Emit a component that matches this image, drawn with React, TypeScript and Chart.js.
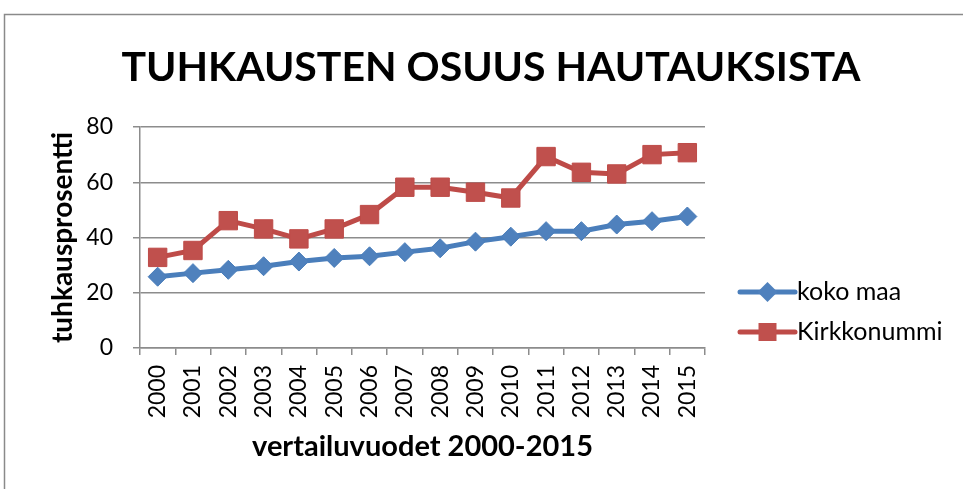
import React, { useEffect, useRef } from "react";
import { Chart, registerables } from "chart.js";

Chart.register(...registerables);

const title = "TUHKAUSTEN OSUUS HAUTAUKSISTA";
const xTitle = "vertailuvuodet 2000-2015";
const yTitle = "tuhkausprosentti";
const years = ["2000", "2001", "2002", "2003", "2004", "2005", "2006", "2007", "2008", "2009", "2010", "2011", "2012", "2013", "2014", "2015"];
const kokoMaa = [25.8, 27.1, 28.3, 29.6, 31.3, 32.6, 33.2, 34.7, 36.1, 38.5, 40.3, 42.3, 42.3, 44.7, 45.9, 47.6];
const kirkkonummi = [32.8, 35.3, 46.1, 43.1, 39.5, 43.1, 48.3, 58.2, 58.2, 56.4, 54.3, 69.3, 63.6, 63.0, 70.0, 70.7];
const yTicks = [0, 20, 40, 60, 80];

const FONT = "Lato, 'Liberation Sans', sans-serif";
const GRID = "#8c8c8c";

const framePlugin = {
  id: "frame",
  beforeDraw(chart: any) {
    const ctx = chart.ctx;
    ctx.save();
    ctx.fillStyle = "#ffffff";
    ctx.fillRect(0, 0, chart.width, chart.height);
    ctx.strokeStyle = "#8a8a8a";
    ctx.lineWidth = 1.5;
    ctx.strokeRect(4.5, 14.5, chart.width + 20, chart.height + 20);
    ctx.restore();
  },
  afterDraw(chart: any) {
    const ctx = chart.ctx;
    ctx.save();
    ctx.fillStyle = "#000";
    ctx.font = `bold 41px ${FONT}`;
    ctx.textAlign = "center";
    ctx.textBaseline = "middle";
    ctx.fillText(title, 491, 68);
    ctx.restore();
  },
};

const legendPlugin = {
  id: "customLegend",
  afterDraw(chart: any) {
    const { ctx, chartArea } = chart;
    ctx.save();
    chart.data.datasets.forEach((ds: any, i: number) => {
      const x0 = chartArea.right + 35;
      const y = chartArea.top + 165 + i * 40;
      ctx.strokeStyle = ds.borderColor;
      ctx.lineWidth = 5;
      ctx.lineCap = "round";
      ctx.beginPath();
      ctx.moveTo(x0, y);
      ctx.lineTo(x0 + 55, y);
      ctx.stroke();
      const cx = x0 + 27.5;
      ctx.fillStyle = ds.pointBackgroundColor;
      ctx.beginPath();
      if (ds.pointStyle === "rectRot") {
        const r = 10;
        ctx.moveTo(cx, y - r);
        ctx.lineTo(cx + r, y);
        ctx.lineTo(cx, y + r);
        ctx.lineTo(cx - r, y);
        ctx.closePath();
      } else {
        const s = 9;
        ctx.rect(cx - s, y - s, 2 * s, 2 * s);
      }
      ctx.fill();
      ctx.fillStyle = "#000";
      ctx.font = `25px ${FONT}`;
      ctx.textAlign = "left";
      ctx.textBaseline = "middle";
      ctx.fillText(ds.label, x0 + 57, y);
    });
    ctx.restore();
  },
};

export default function App() {
  const ref = useRef<HTMLCanvasElement | null>(null);
  useEffect(() => {
    if (!ref.current) return;
    const chart = new Chart(ref.current, {
      type: "line",
      data: {
        labels: years,
        datasets: [
          {
            label: "koko maa",
            data: kokoMaa,
            borderColor: "#4A7EBB",
            backgroundColor: "#4F81BD",
            pointBackgroundColor: "#4F81BD",
            pointBorderColor: "#4A7EBB",
            pointBorderWidth: 1,
            pointStyle: "rectRot",
            pointRadius: 9.5,
            borderWidth: 5,
            tension: 0,
          },
          {
            label: "Kirkkonummi",
            data: kirkkonummi,
            borderColor: "#BE4B48",
            backgroundColor: "#C0504D",
            pointBackgroundColor: "#C0504D",
            pointBorderColor: "#BE4B48",
            pointBorderWidth: 1,
            pointStyle: "rect",
            pointRadius: 13,
            borderWidth: 5,
            tension: 0,
          },
        ],
      },
      options: {
        responsive: false,
        animation: false,
        layout: { padding: { left: 0, right: 258, top: 127, bottom: 0 } },
        plugins: {
          legend: { display: false },
          tooltip: { enabled: false },
          title: { display: false },
        },
        scales: {
          x: {
            type: "category",
            offset: true,
            afterFit: (s: any) => {
              s.height = 141;
            },
            grid: {
              display: true,
              offset: true,
              drawOnChartArea: false,
              drawTicks: true,
              tickLength: 7,
              color: GRID,
              lineWidth: 1.5,
            },
            border: { display: true, color: GRID, width: 1.5 },
            ticks: {
              color: "#000",
              font: { family: FONT, size: 23 },
              minRotation: 90,
              maxRotation: 90,
              padding: 10,
              autoSkip: false,
            },
            title: {
              display: true,
              text: xTitle,
              color: "#000",
              font: { family: FONT, size: 29, weight: "bold" },
              padding: { top: 0, bottom: 25 },
            },
          },
          y: {
            min: 0,
            max: 80,
            afterFit: (s: any) => {
              s.width = 140;
            },
            afterBuildTicks: (s: any) => {
              s.ticks = yTicks.map((v) => ({ value: v }));
            },
            grid: {
              color: GRID,
              lineWidth: 1.5,
              tickLength: 7,
              drawTicks: true,
            },
            border: { display: true, color: GRID, width: 1.5 },
            ticks: {
              color: "#000",
              font: { family: FONT, size: 23 },
              padding: 20,
            },
            title: {
              display: true,
              text: yTitle,
              color: "#000",
              font: { family: FONT, size: 28, weight: "bold" },
              padding: { top: 46, bottom: 0 },
            },
          },
        },
      },
      plugins: [framePlugin, legendPlugin],
    } as any);
    return () => chart.destroy();
  }, []);
  return (
    <canvas
      ref={ref}
      width={963}
      height={489}
      style={{ position: "fixed", left: 0, top: 0, width: 963, height: 489 }}
    />
  );
}
